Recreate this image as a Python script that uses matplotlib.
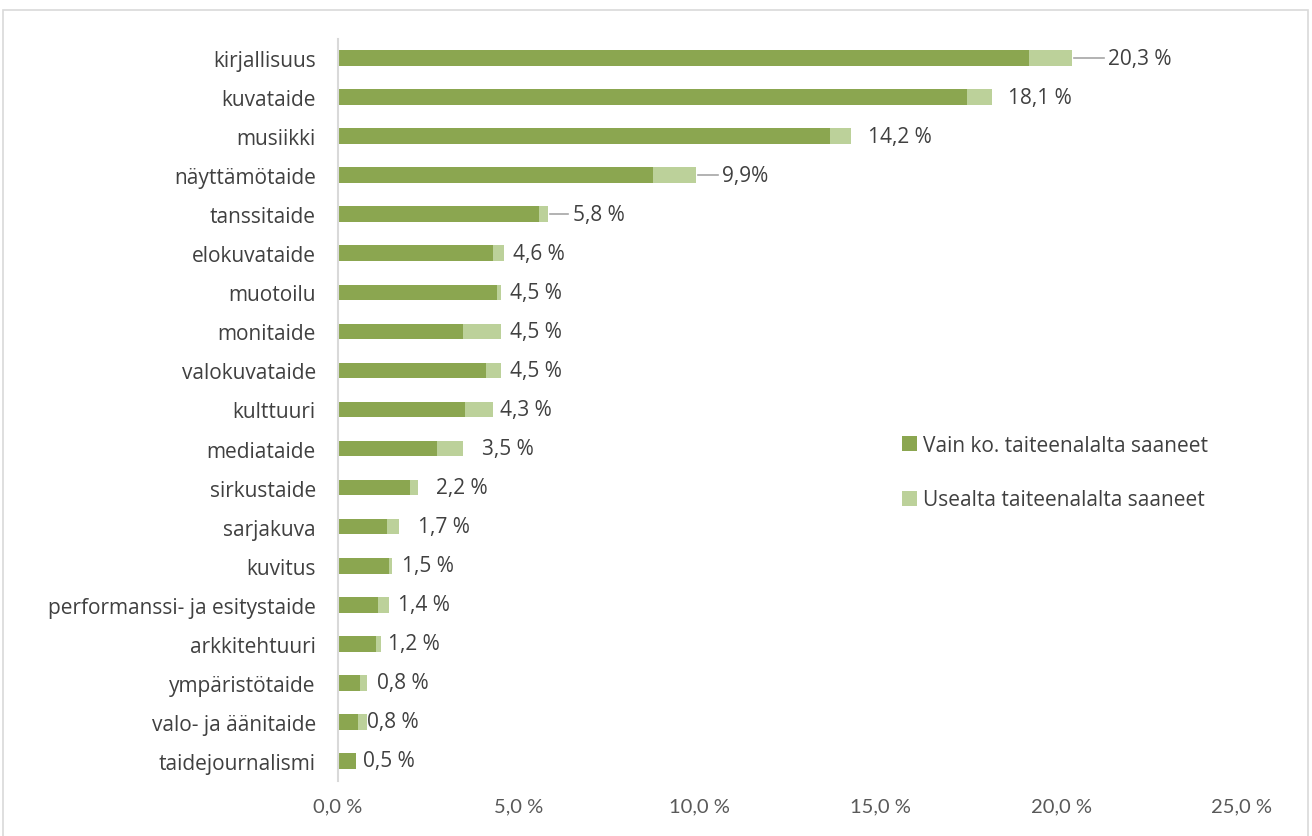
import matplotlib.pyplot as plt
from matplotlib.patches import Rectangle

plt.rcParams['font.family'] = ['Open Sans', 'DejaVu Sans']

# data (percent)
categories = ['kirjallisuus', 'kuvataide', 'musiikki', 'näyttämötaide', 'tanssitaide',
              'elokuvataide', 'muotoilu', 'monitaide', 'valokuvataide', 'kulttuuri',
              'mediataide', 'sirkustaide', 'sarjakuva', 'kuvitus',
              'performanssi- ja esitystaide', 'arkkitehtuuri', 'ympäristötaide',
              'valo- ja äänitaide', 'taidejournalismi']
only_one = [19.1, 17.4, 13.6, 8.7, 5.55, 4.3, 4.4, 3.45, 4.1, 3.5,
            2.75, 2.0, 1.35, 1.4, 1.1, 1.05, 0.6, 0.55, 0.5]
several = [1.2, 0.7, 0.6, 1.2, 0.25, 0.3, 0.1, 1.05, 0.4, 0.8,
           0.7, 0.2, 0.35, 0.1, 0.3, 0.15, 0.2, 0.25, 0.0]
labels = ['20,3 %', '18,1 %', '14,2 %', '9,9%', '5,8 %', '4,6 %', '4,5 %', '4,5 %',
          '4,5 %', '4,3 %', '3,5 %', '2,2 %', '1,7 %', '1,5 %', '1,4 %', '1,2 %',
          '0,8 %', '0,8 %', '0,5 %']
xticks = [0, 5, 10, 15, 20, 25]
xticklabels = ['0,0 %', '5,0 %', '10,0 %', '15,0 %', '20,0 %', '25,0 %']
series_names = ['Vain ko. taiteenalalta saaneet', 'Usealta taiteenalalta saaneet']

# layout of the data labels (gap from bar end in points, leader line or not)
label_gap = [26, 11, 12, 19, 18, 6, 7, 7, 7, 5, 14, 13, 13, 7, 7, 5, 7, 0, 5]
leader = [True, False, False, True, True] + [False] * 14

dark = '#8ba650'
light = '#bcd19a'
text_col = '#404040'
fs = 15

fig = plt.figure(figsize=(13.12, 8.37), dpi=100)
ax = fig.add_axes([338 / 1312, 1 - 781.5 / 837, (1242 - 338) / 1312, (781.5 - 39.5) / 837])

y = list(range(len(categories)))
totals = [a + b for a, b in zip(only_one, several)]
ax.barh(y, only_one, height=0.4, color=dark, label=series_names[0])
ax.barh(y, several, left=only_one, height=0.4, color=light, label=series_names[1])

for i, t in enumerate(totals):
    gap_data = label_gap[i] * (100 / 72) / 36.16
    ax.text(t + gap_data, i, labels[i], va='center', ha='left', fontsize=fs, color=text_col)
    if leader[i]:
        ax.plot([t + 0.05, t + gap_data - 0.12], [i, i], color='#a6a6a6', lw=1.2)

ax.set_ylim(len(categories) - 0.5, -0.5)
ax.set_xlim(0, 25)
ax.set_yticks(y)
ax.set_yticklabels(categories, fontsize=fs, color=text_col)
ax.set_xticks(xticks)
ax.set_xticklabels(xticklabels, fontsize=14.5, color='#595959', family=['Lato', 'DejaVu Sans'])
ax.tick_params(axis='both', length=0)
ax.tick_params(axis='y', pad=16)
ax.tick_params(axis='x', pad=12)
for s in ['top', 'right', 'bottom']:
    ax.spines[s].set_visible(False)
ax.spines['left'].set_color('#d9d9d9')
ax.spines['left'].set_linewidth(1.5)

ax.legend(loc='upper left', bbox_to_anchor=(883 / 1312, 1 - 417 / 837),
          bbox_transform=fig.transFigure, frameon=False, fontsize=fs,
          labelspacing=1.62, handlelength=0.72, handleheight=0.72, handletextpad=0.3,
          labelcolor=text_col)

# chart frame
fig.patches.append(Rectangle((3 / 1312, -0.01), 1305 / 1312, 1 - 10.5 / 837 + 0.01,
                             transform=fig.transFigure, fill=False,
                             edgecolor='#d9d9d9', lw=1.2))

fig.savefig('out.png', dpi=100)
